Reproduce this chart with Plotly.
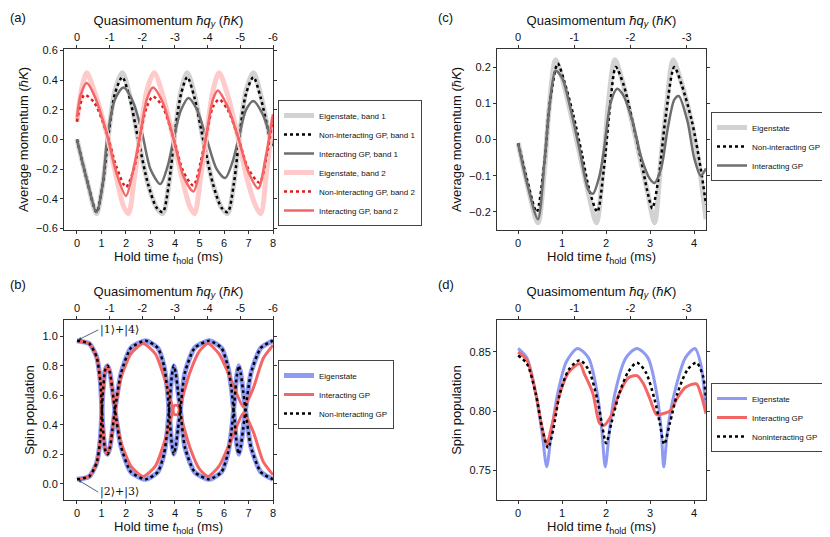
import plotly.graph_objects as go

# ---- panel (a): average momentum vs hold time, 8 ms ----
a_eig1_t = [0, 0.4, 0.8, 1.05, 1.3, 1.55, 1.85, 2.15, 2.5, 2.9, 3.25, 3.5, 3.75, 4.0, 4.25, 4.5, 4.8, 5.15, 5.55, 5.9, 6.15, 6.4, 6.65, 6.9, 7.2, 7.5, 7.85, 8]
a_eig1_y = [0, -0.27, -0.5, -0.3, 0.05, 0.33, 0.45, 0.3, 0.0, -0.3, -0.46, -0.5, -0.3, 0.05, 0.33, 0.45, 0.3, 0.0, -0.3, -0.46, -0.5, -0.3, 0.05, 0.33, 0.45, 0.3, 0.03, -0.05]
a_non1_y = [0, -0.27, -0.49, -0.3, 0.05, 0.31, 0.42, 0.28, 0.0, -0.3, -0.46, -0.49, -0.3, 0.05, 0.31, 0.42, 0.28, 0.0, -0.3, -0.46, -0.49, -0.3, 0.05, 0.31, 0.42, 0.28, 0.03, -0.05]
a_int1_t = [0, 0.4, 0.8, 1.05, 1.25, 1.55, 1.9, 2.3, 2.65, 3.0, 3.4, 3.7, 4.0, 4.25, 4.55, 4.9, 5.3, 5.7, 6.05, 6.35, 6.65, 6.9, 7.2, 7.55, 8]
a_int1_y = [0, -0.27, -0.49, -0.3, 0.03, 0.27, 0.35, 0.25, 0.05, -0.2, -0.30, -0.18, 0.05, 0.2, 0.28, 0.2, 0.0, -0.2, -0.26, -0.15, 0.05, 0.2, 0.26, 0.18, -0.03]
a_eig2_t = [0, 0.2, 0.4, 0.7, 1.2, 1.6, 1.9, 2.1, 2.35, 2.6, 2.85, 3.15, 3.5, 3.9, 4.3, 4.6, 4.8, 5.05, 5.3, 5.55, 5.8, 6.15, 6.55, 6.95, 7.3, 7.5, 7.75, 8]
a_eig2_y = [0.12, 0.35, 0.45, 0.33, 0.05, -0.25, -0.45, -0.5, -0.25, 0.05, 0.33, 0.45, 0.3, 0.03, -0.27, -0.45, -0.5, -0.25, 0.05, 0.33, 0.45, 0.3, 0.03, -0.27, -0.45, -0.5, -0.2, 0.15]
a_non2_t = [0, 0.3, 0.7, 1.2, 1.6, 2.0, 2.35, 2.6, 2.85, 3.1, 3.5, 3.9, 4.35, 4.75, 5.05, 5.3, 5.55, 5.8, 6.15, 6.55, 7.0, 7.45, 7.75, 8]
a_non2_y = [0.12, 0.3, 0.25, 0.05, -0.18, -0.32, -0.18, 0.05, 0.22, 0.29, 0.22, 0.03, -0.22, -0.31, -0.15, 0.05, 0.22, 0.27, 0.2, 0.03, -0.2, -0.29, -0.1, 0.15]
a_int2_t = [0, 0.15, 0.4, 0.7, 1.2, 1.6, 2.0, 2.3, 2.6, 2.85, 3.1, 3.5, 3.9, 4.35, 4.75, 5.05, 5.3, 5.55, 5.75, 6.15, 6.55, 7.0, 7.4, 7.7, 8]
a_int2_y = [0.15, 0.3, 0.38, 0.3, 0.05, -0.22, -0.38, -0.2, 0.05, 0.27, 0.35, 0.25, 0.03, -0.25, -0.35, -0.18, 0.05, 0.27, 0.33, 0.22, 0.03, -0.22, -0.33, -0.12, 0.17]

# ---- panel (b): spin population, two crossing branches ----
b_eig_t = [0, 0.5, 0.8, 0.95, 1.05, 1.15, 1.25, 1.35, 1.45, 1.55, 1.8, 2.2, 2.8, 3.3, 3.55, 3.68, 3.78, 3.87, 3.95, 4.03, 4.12, 4.22, 4.4, 4.8, 5.4, 5.9, 6.15, 6.3, 6.42, 6.52, 6.6, 6.68, 6.78, 6.88, 7.1, 7.5, 8]
b_eig_up = [0.97, 0.95, 0.86, 0.7, 0.4, 0.23, 0.2, 0.25, 0.37, 0.5, 0.75, 0.92, 0.97, 0.92, 0.8, 0.65, 0.45, 0.27, 0.2, 0.25, 0.37, 0.5, 0.75, 0.92, 0.97, 0.92, 0.8, 0.65, 0.45, 0.27, 0.2, 0.25, 0.37, 0.5, 0.75, 0.92, 0.97]
b_eig_lo = [0.03, 0.05, 0.14, 0.3, 0.6, 0.77, 0.8, 0.75, 0.63, 0.5, 0.25, 0.08, 0.03, 0.08, 0.2, 0.35, 0.55, 0.73, 0.8, 0.75, 0.63, 0.5, 0.25, 0.08, 0.03, 0.08, 0.2, 0.35, 0.55, 0.73, 0.8, 0.75, 0.63, 0.5, 0.25, 0.08, 0.03]
b_int_t = [0, 0.5, 0.8, 0.95, 1.05, 1.15, 1.25, 1.35, 1.45, 1.55, 1.8, 2.2, 2.7, 3.2, 3.6, 3.85, 3.97, 4.12, 4.25, 4.6, 5.0, 5.35, 5.8, 6.3, 6.8, 7.2, 7.6, 8]
b_int_up = [0.97, 0.95, 0.86, 0.7, 0.4, 0.23, 0.2, 0.25, 0.37, 0.5, 0.72, 0.88, 0.95, 0.88, 0.7, 0.55, 0.47, 0.47, 0.55, 0.75, 0.9, 0.95, 0.88, 0.7, 0.52, 0.65, 0.85, 0.94]
b_int_lo = [0.03, 0.05, 0.14, 0.3, 0.6, 0.77, 0.8, 0.75, 0.63, 0.5, 0.28, 0.12, 0.05, 0.12, 0.3, 0.45, 0.53, 0.53, 0.45, 0.25, 0.1, 0.05, 0.12, 0.3, 0.48, 0.35, 0.15, 0.06]

# ---- panel (c) ----
c_eig_t = [0, 0.2, 0.45, 0.6, 0.7, 0.85, 1.0, 1.2, 1.4, 1.6, 1.78, 1.95, 2.05, 2.2, 2.35, 2.55, 2.75, 2.95, 3.1, 3.25, 3.38, 3.52, 3.68, 3.9, 4.1, 4.27]
c_eig_y = [-0.01, -0.12, -0.23, -0.08, 0.08, 0.22, 0.17, 0.07, -0.04, -0.15, -0.23, -0.05, 0.1, 0.22, 0.17, 0.07, -0.04, -0.15, -0.23, -0.05, 0.1, 0.22, 0.17, 0.07, -0.06, -0.22]
c_non_t = [0, 0.2, 0.42, 0.6, 0.72, 0.9, 1.05, 1.25, 1.45, 1.62, 1.8, 1.95, 2.08, 2.22, 2.4, 2.6, 2.8, 2.95, 3.05, 3.2, 3.35, 3.55, 3.72, 3.95, 4.15, 4.27]
c_non_y = [-0.01, -0.11, -0.2, -0.06, 0.1, 0.21, 0.16, 0.07, -0.04, -0.14, -0.2, -0.08, 0.08, 0.2, 0.15, 0.05, -0.06, -0.15, -0.19, -0.1, 0.06, 0.2, 0.15, 0.05, -0.08, -0.18]
c_int_t = [0, 0.2, 0.45, 0.6, 0.72, 0.85, 1.0, 1.2, 1.4, 1.6, 1.7, 1.85, 1.95, 2.1, 2.25, 2.4, 2.6, 2.8, 3.0, 3.1, 3.25, 3.4, 3.55, 3.65, 3.85, 4.0, 4.15, 4.27]
c_int_y = [-0.01, -0.12, -0.22, -0.06, 0.1, 0.19, 0.17, 0.08, -0.03, -0.14, -0.15, -0.1, -0.03, 0.1, 0.14, 0.12, 0.05, -0.05, -0.11, -0.12, -0.08, 0.03, 0.11, 0.12, 0.05, -0.05, -0.1, -0.08]

# ---- panel (d) ----
d_eig_t = [0, 0.2, 0.4, 0.55, 0.65, 0.75, 0.9, 1.1, 1.35, 1.6, 1.8, 1.9, 1.98, 2.08, 2.2, 2.45, 2.7, 2.95, 3.15, 3.25, 3.31, 3.4, 3.55, 3.8, 4.02, 4.15, 4.27]
d_eig_y = [0.853, 0.845, 0.815, 0.78, 0.753, 0.78, 0.815, 0.842, 0.853, 0.845, 0.815, 0.785, 0.753, 0.785, 0.815, 0.845, 0.853, 0.845, 0.815, 0.785, 0.753, 0.785, 0.815, 0.845, 0.853, 0.84, 0.80]
d_non_t = [0, 0.2, 0.4, 0.55, 0.68, 0.8, 0.95, 1.15, 1.4, 1.6, 1.8, 1.9, 2.0, 2.12, 2.3, 2.5, 2.7, 2.9, 3.1, 3.22, 3.32, 3.45, 3.62, 3.85, 4.05, 4.2, 4.27]
d_non_y = [0.847, 0.84, 0.815, 0.785, 0.769, 0.785, 0.815, 0.835, 0.843, 0.835, 0.81, 0.79, 0.773, 0.79, 0.815, 0.833, 0.841, 0.833, 0.81, 0.79, 0.772, 0.79, 0.815, 0.835, 0.841, 0.83, 0.81]
d_int_t = [0, 0.2, 0.4, 0.55, 0.65, 0.78, 0.95, 1.15, 1.4, 1.5, 1.7, 1.85, 1.95, 2.1, 2.3, 2.5, 2.7, 2.85, 3.0, 3.15, 3.3, 3.45, 3.6, 3.8, 4.05, 4.15, 4.27]
d_int_y = [0.85, 0.843, 0.815, 0.785, 0.772, 0.79, 0.815, 0.833, 0.84, 0.832, 0.815, 0.79, 0.788, 0.795, 0.815, 0.828, 0.83, 0.823, 0.81, 0.797, 0.798, 0.8, 0.81, 0.82, 0.823, 0.815, 0.798]

q_labels_a = ['0', '-1', '-2', '-3', '-4', '-5', '-6']
q_labels_c = ['0', '-1', '-2', '-3']

GRAY_E = '#d2d2d2'
GRAY_I = '#6e6e6e'
PINK = '#ffcaca'
RED_D = '#e01b1b'
RED_I = '#f46666'
BLUE = '#8f9af3'
FONT = 'Liberation Sans, Arial'

fig = go.Figure()


def line(t, y, name, color, width, xa, ya, leg, dash=None, show=True, smooth=0.8):
    fig.add_trace(go.Scatter(
        x=t, y=y, name=name, mode='lines', line_shape='spline',
        line=dict(color=color, width=width, dash=dash, smoothing=smooth),
        xaxis=xa, yaxis=ya, legend=leg, showlegend=show))


# (a)
line(a_eig1_t, a_eig1_y, 'Eigenstate, band 1', GRAY_E, 5, 'x', 'y', 'legend')
line(a_eig1_t, a_non1_y, 'Non-interacting GP, band 1', 'black', 2.5, 'x', 'y', 'legend', 'dot')
line(a_int1_t, a_int1_y, 'Interacting GP, band 1', GRAY_I, 2.5, 'x', 'y', 'legend')
line(a_eig2_t, a_eig2_y, 'Eigenstate, band 2', PINK, 5, 'x', 'y', 'legend')
line(a_non2_t, a_non2_y, 'Non-interacting GP, band 2', RED_D, 2.5, 'x', 'y', 'legend', 'dot')
line(a_int2_t, a_int2_y, 'Interacting GP, band 2', RED_I, 2.5, 'x', 'y', 'legend')

# (b)
line(b_eig_t, b_eig_up, 'Eigenstate', BLUE, 5, 'x2', 'y2', 'legend2', smooth=0.6)
line(b_eig_t, b_eig_lo, 'Eigenstate', BLUE, 5, 'x2', 'y2', 'legend2', show=False, smooth=0.6)
line(b_int_t, b_int_up, 'Interacting GP', RED_I, 3, 'x2', 'y2', 'legend2', smooth=0.6)
line(b_int_t, b_int_lo, 'Interacting GP', RED_I, 3, 'x2', 'y2', 'legend2', show=False, smooth=0.6)
line(b_eig_t, b_eig_up, 'Non-interacting GP', 'black', 2.5, 'x2', 'y2', 'legend2', 'dot', smooth=0.6)
line(b_eig_t, b_eig_lo, 'Non-interacting GP', 'black', 2.5, 'x2', 'y2', 'legend2', 'dot', show=False, smooth=0.6)

# (c)
line(c_eig_t, c_eig_y, 'Eigenstate', GRAY_E, 5, 'x3', 'y3', 'legend3')
line(c_non_t, c_non_y, 'Non-interacting GP', 'black', 2.5, 'x3', 'y3', 'legend3', 'dot')
line(c_int_t, c_int_y, 'Interacting GP', GRAY_I, 2.5, 'x3', 'y3', 'legend3')

# (d)
line(d_eig_t, d_eig_y, 'Eigenstate', BLUE, 3, 'x4', 'y4', 'legend4')
line(d_int_t, d_int_y, 'Interacting GP', RED_I, 3, 'x4', 'y4', 'legend4')
line(d_non_t, d_non_y, 'Noninteracting GP', 'black', 2.5, 'x4', 'y4', 'legend4', 'dot')

# invisible copies so the top (quasimomentum) axes get drawn
for i, (t, y) in enumerate([(a_eig1_t, a_eig1_y), (b_eig_t, b_eig_up), (c_eig_t, c_eig_y), (d_eig_t, d_eig_y)]):
    s = '' if i == 0 else str(i + 1)
    fig.add_trace(go.Scatter(x=t, y=y, mode='lines', line=dict(width=0), opacity=0,
                             hoverinfo='skip', showlegend=False,
                             xaxis='x' + str(i + 5), yaxis='y' + s))

# page body adds an 8px offset, so the figure is 8px smaller and coords shift by 8
OFF = 8
W, H = 830 - OFF, 537 - OFF


def px(x):
    return (x - OFF) / W


def py(y):
    return 1 - (y - OFF) / H


xd_l = [px(64), px(273)]
xd_r = [px(497), px(706)]
yd_t = [py(230), py(49)]
yd_b = [py(500), py(320)]

ax = dict(showline=True, linecolor='#333', linewidth=1, ticks='outside', ticklen=3,
          tickcolor='#333', showgrid=False, zeroline=False, automargin=False,
          tickfont=dict(size=11, color='#111'), title_font=dict(size=13, color='#111'))
xt = 'Hold time <i>t</i><sub>hold</sub> (ms)'
qt = 'Quasimomentum <i>ħq<sub>y</sub></i> (<i>ħK</i>)'

layout = dict(width=W, height=H, margin=dict(l=0, r=0, t=0, b=0, autoexpand=False),
              plot_bgcolor='white', paper_bgcolor='white',
              font=dict(family=FONT, color='#111'))

panels = [(1, xd_l, yd_t, [-0.53, 8], [-0.61, 0.61], 0.2, '.1f', 'Average momentum (<i>ħK</i>)', 4 / 3, q_labels_a),
          (2, xd_l, yd_b, [-0.53, 8], [-0.11, 1.11], 0.2, '.1f', 'Spin population', 4 / 3, q_labels_a),
          (3, xd_r, yd_t, [-0.48, 4.27], [-0.25, 0.25], 0.1, '.1f', 'Average momentum (<i>ħK</i>)', 1.277, q_labels_c),
          (4, xd_r, yd_b, [-0.48, 4.27], [0.725, 0.877], 0.05, '.2f', 'Spin population', 1.277, q_labels_c)]

for i, xd, yd, xr, yr, dy, fmt, ytitle, qstep, qlab in panels:
    s = '' if i == 1 else str(i)
    layout['xaxis' + s] = dict(ax, domain=xd, range=xr, dtick=1, anchor='y' + s,
                               title=dict(text=xt, standoff=2))
    layout['yaxis' + s] = dict(ax, domain=yd, range=yr, dtick=dy, tickformat=fmt,
                               anchor='x' + s, mirror='ticks',
                               title=dict(text=ytitle, standoff=4))
    layout['xaxis' + str(i + 4)] = dict(ax, overlaying='x' + s, anchor='y' + s, side='top',
                                        range=xr, tickmode='array',
                                        tickvals=[k * qstep for k in range(len(qlab))],
                                        ticktext=qlab, title=dict(text=qt, standoff=2))

leg = dict(bordercolor='#444', borderwidth=1, font=dict(size=8, color='#111'),
           bgcolor='white', itemwidth=30, tracegroupgap=0, xanchor='left', yanchor='top')
layout['legend'] = dict(leg, x=px(278), y=py(100))
layout['legend2'] = dict(leg, x=px(278), y=py(360))
layout['legend3'] = dict(leg, x=px(711), y=py(112))
layout['legend4'] = dict(leg, x=px(711), y=py(383))

fig.update_layout(**layout)

for txt, x, y in [('(a)', 8, 8), ('(b)', 8, 275), ('(c)', 436, 8), ('(d)', 436, 275)]:
    fig.add_annotation(text=txt, x=px(x), y=py(y), xref='paper', yref='paper',
                       xanchor='left', yanchor='top', showarrow=False, font=dict(size=13))

fig.add_annotation(text='|1⟩+|4⟩', x=0.05, y=0.975, xref='x2', yref='y2', ax=20, ay=-10,
                   xanchor='left', showarrow=True, arrowhead=2,
                   arrowsize=0.8, arrowwidth=0.8, font=dict(size=11, family='DejaVu Serif'))
fig.add_annotation(text='|2⟩+|3⟩', x=0.05, y=0.025, xref='x2', yref='y2', ax=20, ay=12,
                   xanchor='left', showarrow=True, arrowhead=2,
                   arrowsize=0.8, arrowwidth=0.8, font=dict(size=11, family='DejaVu Serif'))

fig.write_html('out.html')
